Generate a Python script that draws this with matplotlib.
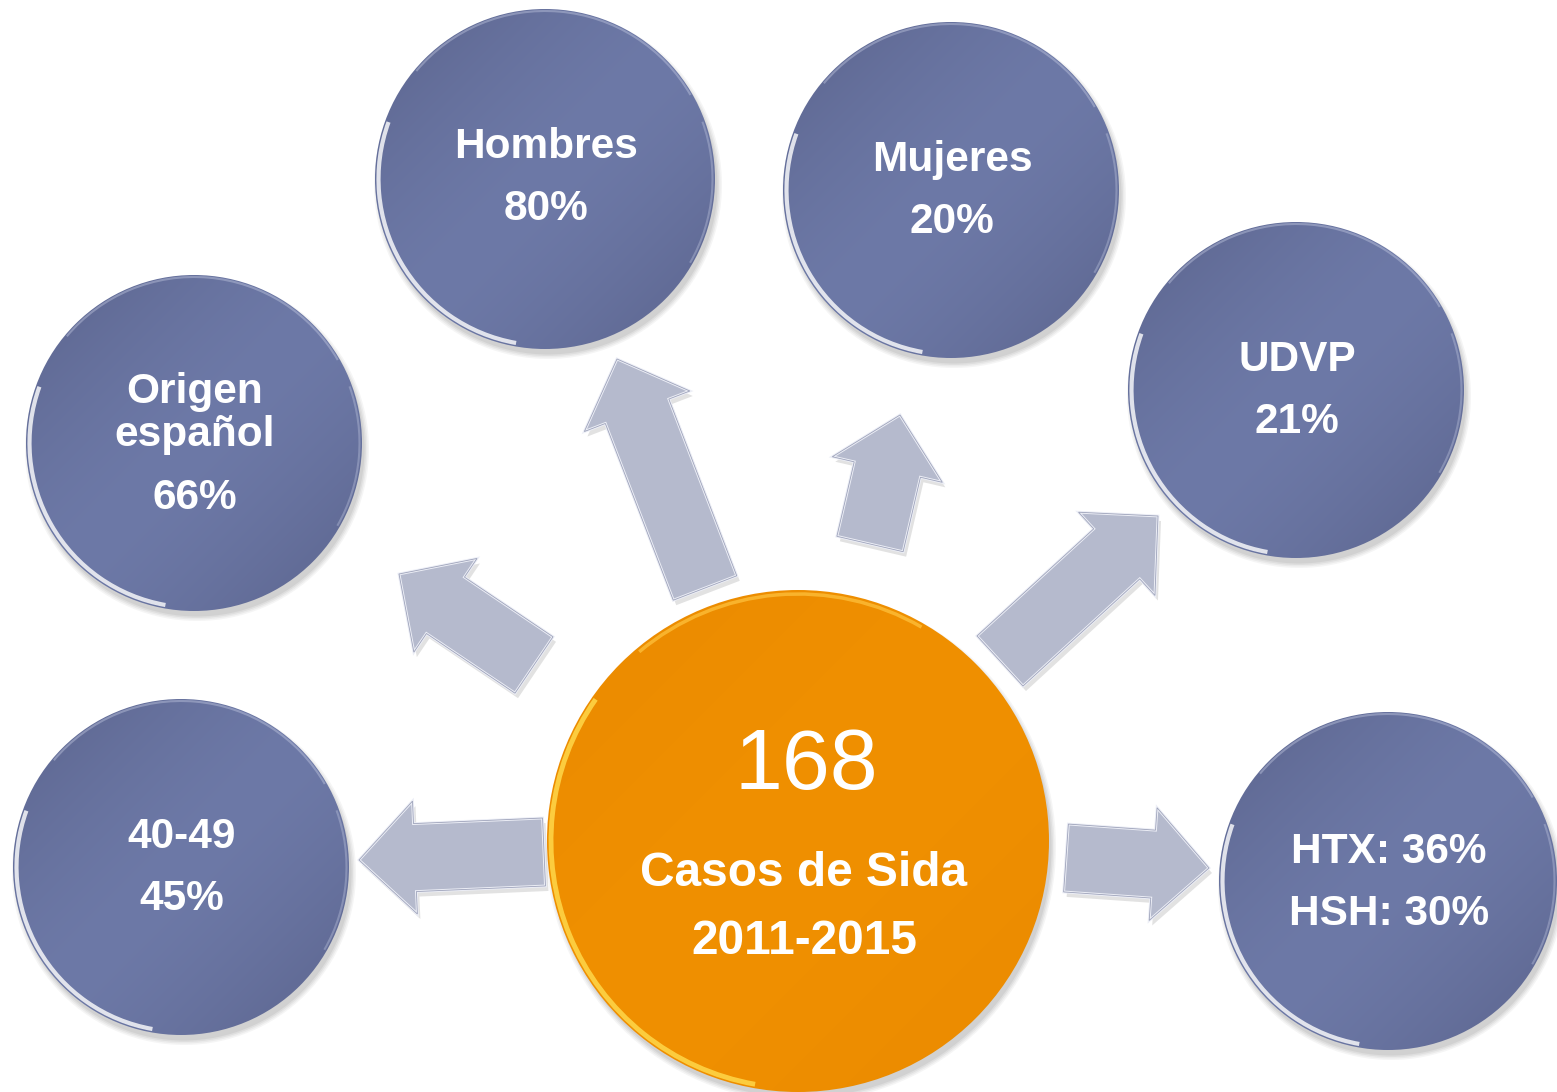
#!/usr/bin/env python3
"""
Diagrama: casos de Sida 2011-2015 y sus características
"""

import numpy as np
import matplotlib
matplotlib.use('Agg')
import matplotlib.pyplot as plt
from matplotlib.patches import Circle, Polygon, Arc

plt.rcParams['font.family'] = ['Liberation Sans', 'DejaVu Sans']

# datos
total_casos = 168
titulo_centro = ['Casos de Sida', '2011-2015']
categorias = ['Hombres', 'Mujeres', 'UDVP', 'Origen\nespañol', '40-49', 'HTX: 36%\nHSH: 30%']
porcentajes = ['80%', '20%', '21%', '66%', '45%', '']

# layout (pixeles de la imagen)
W, H = 1557, 1092
burbujas = [(545, 179, 170), (951, 190, 168), (1296, 390, 168),
            (194, 443, 168), (181, 867, 168), (1388, 881, 169)]
centro = (798, 841, 251)
# (cola, punta)
flechas = [((544, 852), (359, 860)), ((1066, 858), (1209, 868)),
           ((534, 665), (399, 574)), ((705, 588), (617, 359)),
           ((870, 544), (900, 415)), ((1000, 661), (1158, 516))]


def gradient_circle(ax, cx, cy, r, c_edge, c_mid, z):
    """Circulo con degradado diagonal suave recortado"""
    n = 200
    xx, yy = np.meshgrid(np.linspace(-1, 1, n), np.linspace(-1, 1, n))
    # banda clara en diagonal (arriba-derecha -> abajo-izquierda)
    d = (xx + yy) / np.sqrt(2)
    t = np.clip(1 - np.abs(d) ** 1.5, 0, 1)
    ce = np.array(matplotlib.colors.to_rgb(c_edge))
    cm = np.array(matplotlib.colors.to_rgb(c_mid))
    img = ce[None, None, :] * (1 - t[..., None]) + cm[None, None, :] * t[..., None]
    # sombra
    for k, a in enumerate([0.05, 0.06, 0.07, 0.08]):
        ax.add_patch(Circle((cx + 3, cy + 6), r + 4 - k * 1.5, color='#404040',
                            alpha=a, lw=0, zorder=z - 0.5))
    clip = Circle((cx, cy), r, transform=ax.transData, facecolor='none', lw=0)
    ax.add_patch(clip)
    im = ax.imshow(img, extent=(cx - r, cx + r, cy + r, cy - r), origin='upper',
                   zorder=z, interpolation='bilinear')
    im.set_clip_path(clip)
    return im


def arrow_poly(tail, tip, shaft=68, head=113, head_len=56):
    x0, y0 = tail
    x1, y1 = tip
    d = np.array([x1 - x0, y1 - y0], dtype=float)
    L = np.hypot(*d)
    u = d / L
    n = np.array([-u[1], u[0]])
    p0 = np.array([x0, y0], dtype=float)
    base = p0 + u * (L - head_len)
    pts = [p0 + n * shaft / 2, base + n * shaft / 2, base + n * head / 2,
           np.array([x1, y1], dtype=float),
           base - n * head / 2, base - n * shaft / 2, p0 - n * shaft / 2]
    return np.array(pts)


fig = plt.figure(figsize=(W / 100, H / 100), dpi=100)
ax = fig.add_axes([0, 0, 1, 1])
ax.set_xlim(0, W)
ax.set_ylim(H, 0)
ax.set_aspect('equal')
ax.axis('off')

# flechas
for tail, tip in flechas:
    pts = arrow_poly(tail, tip)
    ax.add_patch(Polygon(pts + np.array([3, 5]), closed=True, color='#606060',
                         alpha=0.18, lw=0, zorder=1))
    ax.add_patch(Polygon(pts, closed=True, facecolor='#b5bacd', edgecolor='#eceef6',
                         lw=2, zorder=2, joinstyle='miter'))
    ax.add_patch(Polygon(pts, closed=True, facecolor='none', edgecolor='#9ea3ba',
                         lw=0.6, zorder=2.1, joinstyle='miter'))

# burbujas azules
for (cx, cy, r), cat, pct in zip(burbujas, categorias, porcentajes):
    gradient_circle(ax, cx, cy, r, '#626c97', '#6d79a7', 3)
    ax.add_patch(Arc((cx, cy), 2 * r - 7, 2 * r - 7, theta1=100, theta2=200,
                     color='white', lw=3, alpha=0.8, zorder=4))
    ax.add_patch(Arc((cx, cy), 2 * r - 4, 2 * r - 4, theta1=220, theta2=330,
                     color='#c9cfe6', lw=1.5, alpha=0.4, zorder=4))
    ax.add_patch(Arc((cx, cy), 2 * r - 5, 2 * r - 5, theta1=340, theta2=30,
                     color='#c9cfe6', lw=1.5, alpha=0.35, zorder=4))
    lineas = cat.split('\n')
    if pct:
        lineas = lineas + [pct]
    if len(lineas) == 2:
        ys = [cy - 30, cy + 32]
    else:
        ys = [cy - 51, cy - 8, cy + 55]
    if cat.startswith('HTX'):
        ys = [cy - 29, cy + 33]
    if cat == 'Hombres':
        ys = [cy - 32, cy + 30]
    for txt, y in zip(lineas, ys):
        ax.text(cx + 1, y, txt, color='white', fontsize=30.5, fontweight='bold',
                ha='center', va='center', zorder=5)

# burbuja central
cx, cy, r = centro
gradient_circle(ax, cx, cy, r, '#ec8c00', '#f09000', 3)
ax.add_patch(Arc((cx, cy), 2 * r - 8, 2 * r - 8, theta1=100, theta2=215,
                 color='#ffd84a', lw=3.5, alpha=0.85, zorder=4))
ax.add_patch(Arc((cx, cy), 2 * r - 8, 2 * r - 8, theta1=230, theta2=300,
                 color='#ffc440', lw=2.5, alpha=0.7, zorder=4))
ax.text(cx + 8, cy - 74, str(total_casos), color='white', fontsize=62,
        ha='center', va='center', zorder=5)
ax.text(cx + 6, cy + 32, titulo_centro[0], color='white', fontsize=34.5,
        fontweight='bold', ha='center', va='center', zorder=5)
ax.text(cx + 6, cy + 100, titulo_centro[1], color='white', fontsize=34.5,
        fontweight='bold', ha='center', va='center', zorder=5)

fig.savefig('out.png', dpi=100, facecolor='white')
